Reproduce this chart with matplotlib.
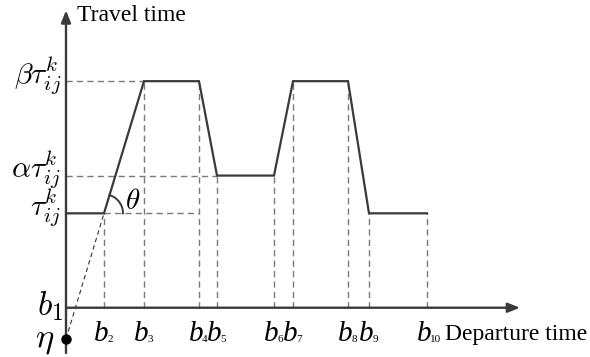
import numpy as np
import matplotlib as mpl
mpl.use("Agg")
from matplotlib import pyplot as plt

mpl.rcParams["mathtext.fontset"] = "cm"

# breakpoints b2..b10 on the departure-time axis
b_pos = [3.8, 7.8, 13.3, 15.1, 20.8, 22.7, 28.2, 30.3, 36.1]
b_sub = ["2", "3", "4", "5", "6", "7", "8", "9", "10"]
# travel-time levels (tau = 1)
tau, alpha, beta = 1.0, 1.4, 2.4
b_lev = [tau, beta, beta, alpha, alpha, beta, beta, tau, tau]
y_labels = [r"$\tau_{ij}^{k}$", r"$\alpha\tau_{ij}^{k}$", r"$\beta\tau_{ij}^{k}$"]

# eta = where the rising segment meets the time axis
eta = tau - b_pos[0] * (beta - tau) / (b_pos[1] - b_pos[0])

AX = "#3a3a3a"
DASH = "#7a7a7a"
serif = "Liberation Serif"

fig = plt.figure(figsize=(5.9, 3.57), dpi=100)
ax = fig.add_axes([0, 0, 1, 1])
ax.set_xlim(-6.6, 52.4)
ax.set_ylim(-0.522, 3.26)
ax.axis("off")

# axes with arrows
ap = dict(arrowstyle="-|>,head_length=0.6,head_width=0.24", lw=1.7, color=AX,
          shrinkA=0, shrinkB=0, mutation_scale=12)
ax.annotate("", xy=(45.4, 0), xytext=(0, 0), arrowprops=ap)
ax.annotate("", xy=(0, 3.15), xytext=(0, -0.48), arrowprops=ap)

# dashed guides
dkw = dict(color=DASH, lw=1.0, dashes=(4.5, 3))
for x, y in zip(b_pos, b_lev):
    ax.plot([x, x], [0, y], **dkw)
ax.plot([0, b_pos[1]], [beta, beta], **dkw)
ax.plot([0, b_pos[3]], [alpha, alpha], **dkw)
ax.plot([b_pos[0], b_pos[2]], [tau, tau], **dkw)
ax.plot([0, b_pos[0]], [eta, tau], color="#333333", lw=0.8, dashes=(4, 3))

# travel time profile
ax.plot([0] + b_pos, [tau] + b_lev, color=AX, lw=1.6, solid_joinstyle="miter")
ax.plot([0], [eta], "o", color="black", markersize=6.5, zorder=5)

# theta arc (circle in pixel space)
p0 = ax.transData.transform((b_pos[0], tau))
p1 = ax.transData.transform((b_pos[1], beta))
ang = np.arctan2(p1[1] - p0[1], p1[0] - p0[0])
t = np.linspace(0, ang, 40)
r = 19
pts = ax.transData.inverted().transform(np.c_[p0[0] + r * np.cos(t), p0[1] + r * np.sin(t)])
ax.plot(pts[:, 0], pts[:, 1], color=AX, lw=1.4)
ax.text(6.7, 1.13, r"$\theta$", fontsize=21, ha="center", va="center")

# y tick labels
for lab, y in zip(y_labels, [tau, alpha, beta]):
    ax.text(-0.5, y - 0.02, lab, fontsize=21.5, ha="right", va="baseline")
ax.text(-0.3, 0.02, r"$b_1$", fontsize=24, ha="right", va="center")
ax.text(-2.1, eta, r"$\eta$", fontsize=25, ha="center", va="center")

# x tick labels: italic b with small upright subscripts
for x, s in zip(b_pos, b_sub):
    ax.annotate("b", xy=(x - 1.0, -0.353), fontsize=21, family=serif, style="italic",
                ha="left", va="baseline")
    ax.annotate(s, xy=(x - 1.0, -0.353), xytext=(9.5, -1), textcoords="offset points",
                fontsize=8, family=serif, ha="left", va="baseline")

ax.text(37.9, -0.342, "Departure time", fontsize=17, family=serif, ha="left", va="baseline")
ax.text(1.1, 3.037, "Travel time", fontsize=17, family=serif, ha="left", va="baseline")

fig.savefig("out.png", dpi=100)
